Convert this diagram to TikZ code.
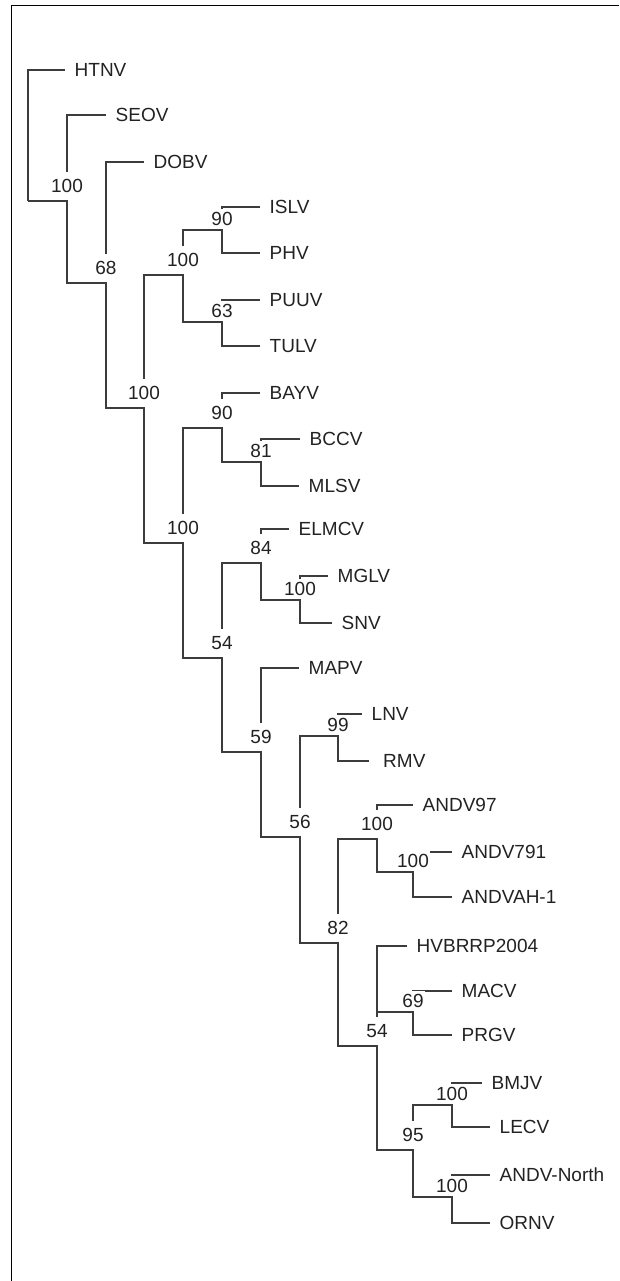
\documentclass[tikz,border=0pt]{standalone}
\usepackage{fontspec}
\setmainfont{Liberation Sans}
\definecolor{treegray}{HTML}{3C3C3C}
\definecolor{labelgray}{HTML}{222222}

\tikzset{
  branch/.style={draw=treegray, line width=1.1pt},
  leaf/.style={anchor=west, inner xsep=9.5pt, inner ysep=0pt, text=labelgray},
  boot/.style={anchor=south, fill=white, inner xsep=1pt, inner ysep=0pt,
    minimum height=28pt, yshift=1pt, text=labelgray},
  boottight/.style={boot, minimum height=20pt}
}

\begin{document}
\begin{tikzpicture}[x=1pt,y=-1pt,font=\fontsize{19}{22}\selectfont]
        \useasboundingbox (0,0) rectangle (619,1281);
        \draw[line width=1.4pt] (11.5,1281) -- (11.5,5.5) -- (619,5.5);

        % inner nodes
        \coordinate (root) at (28,201);
        \coordinate (n1) at (67,201);
        \coordinate (n2) at (106,283);
        \coordinate (n3) at (144,408);
        \coordinate (n4) at (183,275);
        \coordinate (n5) at (222,230);
        \coordinate (n6) at (222,322);
        \coordinate (n7) at (183,543);
        \coordinate (n8) at (222,428);
        \coordinate (n9) at (261,462);
        \coordinate (n10) at (222,658);
        \coordinate (n11) at (261,563);
        \coordinate (n12) at (300,600);
        \coordinate (n13) at (261,752);
        \coordinate (n14) at (300,837);
        \coordinate (n15) at (338,736);
        \coordinate (n16) at (338,943);
        \coordinate (n17) at (377,839);
        \coordinate (n18) at (413,872);
        \coordinate (n19) at (377,1046);
        \coordinate (n20) at (413,1012);
        \coordinate (n21) at (413,1150);
        \coordinate (n22) at (452,1105);
        \coordinate (n23) at (452,1197);

        % leaves
        \node (htnv) [leaf] at (65,70) {HTNV};
        \node (seov) [leaf] at (106,115) {SEOV};
        \node (dobv) [leaf] at (144,162) {DOBV};
        \node (islv) [leaf] at (260,207) {ISLV};
        \node (phv) [leaf] at (260,253) {PHV};
        \node (puuv) [leaf] at (260,300) {PUUV};
        \node (tulv) [leaf] at (260,346) {TULV};
        \node (bayv) [leaf] at (260,393) {BAYV};
        \node (bccv) [leaf] at (300,439) {BCCV};
        \node (mlsv) [leaf] at (299,486) {MLSV};
        \node (elmcv) [leaf] at (289,529) {ELMCV};
        \node (mglv) [leaf] at (328,576) {MGLV};
        \node (snv) [leaf] at (332,623) {SNV};
        \node (mapv) [leaf] at (299,668) {MAPV};
        \node (lnv) [leaf] at (362,714) {LNV};
        \node (rmv) [leaf, inner xsep=14pt] at (369,761) {RMV};
        \node (andv97) [leaf] at (413,805) {ANDV97};
        \node (andv791) [leaf] at (452,852) {ANDV791};
        \node (andvah) [leaf] at (452,897) {ANDVAH-1};
        \node (hvbrrp) [leaf] at (407,946) {HVBRRP2004};
        \node (macv) [leaf] at (452,991) {MACV};
        \node (prgv) [leaf] at (452,1035) {PRGV};
        \node (bmjv) [leaf] at (482,1083) {BMJV};
        \node (lecv) [leaf] at (490,1127) {LECV};
        \node (andvn) [leaf] at (490,1175) {ANDV-North};
        \node (ornv) [leaf] at (490,1223) {ORNV};

        % branches
        \draw[branch] (root) |- (htnv);
        \draw[branch] (root) |- (n1);
        \draw[branch] (n1) |- (seov);
        \draw[branch] (n1) |- (n2);
        \draw[branch] (n2) |- (dobv);
        \draw[branch] (n2) |- (n3);
        \draw[branch] (n3) |- (n4);
        \draw[branch] (n3) |- (n7);
        \draw[branch] (n4) |- (n5);
        \draw[branch] (n4) |- (n6);
        \draw[branch] (n5) |- (islv);
        \draw[branch] (n5) |- (phv);
        \draw[branch] (n6) |- (puuv);
        \draw[branch] (n6) |- (tulv);
        \draw[branch] (n7) |- (n8);
        \draw[branch] (n7) |- (n10);
        \draw[branch] (n8) |- (bayv);
        \draw[branch] (n8) |- (n9);
        \draw[branch] (n9) |- (bccv);
        \draw[branch] (n9) |- (mlsv);
        \draw[branch] (n10) |- (n11);
        \draw[branch] (n10) |- (n13);
        \draw[branch] (n11) |- (elmcv);
        \draw[branch] (n11) |- (n12);
        \draw[branch] (n12) |- (mglv);
        \draw[branch] (n12) |- (snv);
        \draw[branch] (n13) |- (mapv);
        \draw[branch] (n13) |- (n14);
        \draw[branch] (n14) |- (n15);
        \draw[branch] (n14) |- (n16);
        \draw[branch] (n15) |- (lnv);
        \draw[branch] (n15) |- (rmv);
        \draw[branch] (n16) |- (n17);
        \draw[branch] (n16) |- (n19);
        \draw[branch] (n17) |- (andv97);
        \draw[branch] (n17) |- (n18);
        \draw[branch] (n18) |- (andv791);
        \draw[branch] (n18) |- (andvah);
        \draw[branch] (n19) |- (hvbrrp);
        \draw[branch] (n19) |- (n20);
        \draw[branch] (n19) |- (n21);
        \draw[branch] (n20) |- (macv);
        \draw[branch] (n20) |- (prgv);
        \draw[branch] (n21) |- (n22);
        \draw[branch] (n21) |- (n23);
        \draw[branch] (n22) |- (bmjv);
        \draw[branch] (n22) |- (lecv);
        \draw[branch] (n23) |- (andvn);
        \draw[branch] (n23) |- (ornv);

        % bootstrap values
        \node (b1) [boot] at (n1) {100};
        \node (b2) [boot] at (n2) {68};
        \node (b3) [boot] at (n3) {100};
        \node (b4) [boot] at (n4) {100};
        \node (b5) [boottight] at (n5) {90};
        \node (b6) [boottight] at (n6) {63};
        \node (b7) [boot] at (n7) {100};
        \node (b8) [boot] at (n8) {90};
        \node (b9) [boottight] at (n9) {81};
        \node (b10) [boot] at (n10) {54};
        \node (b11) [boot] at (n11) {84};
        \node (b12) [boottight] at (n12) {100};
        \node (b13) [boot] at (n13) {59};
        \node (b14) [boot] at (n14) {56};
        \node (b15) [boottight] at (n15) {99};
        \node (b16) [boot] at (n16) {82};
        \node (b17) [boot] at (n17) {100};
        \node (b18) [boottight] at (n18) {100};
        \node (b19) [boot] at (n19) {54};
        \node (b20) [boottight] at (n20) {69};
        \node (b21) [boot] at (n21) {95};
        \node (b22) [boottight] at (n22) {100};
        \node (b23) [boottight] at (n23) {100};
\end{tikzpicture}
\end{document}
